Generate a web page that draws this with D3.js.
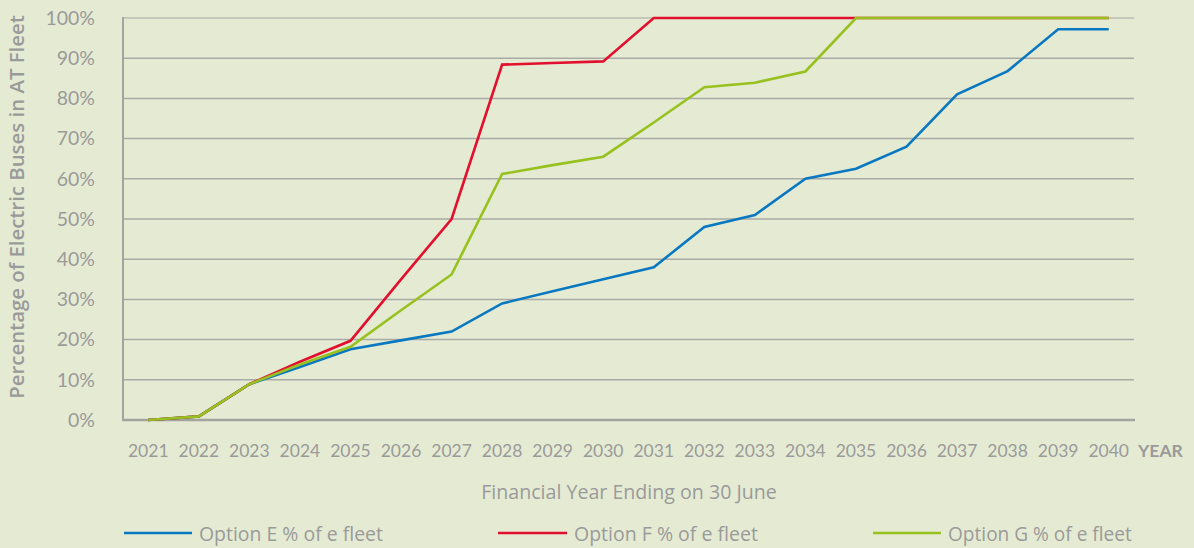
<!DOCTYPE html>
<html><head><meta charset="utf-8">
<script src="https://cdn.jsdelivr.net/npm/d3@7"></script>
<style>
html,body{margin:0;padding:0;background:#e5ebd3;}
svg{display:block;}
text{font-family:"Open Sans",Lato,sans-serif;fill:#9a9a9a;}
.lato{font-family:Lato,"Open Sans",sans-serif;}
</style></head><body>
<svg id="c" width="1194" height="548"></svg>
<script>
const years = ["2021","2022","2023","2024","2025","2026","2027","2028","2029","2030","2031","2032","2033","2034","2035","2036","2037","2038","2039","2040"];
const optionE = [0,0.9,8.9,13.2,17.6,19.8,22,29,32,35,38,48,51,60,62.5,68,81,86.8,97.2,97.2];
const optionF = [0,0.9,8.9,14.5,19.7,35,50,88.4,88.8,89.2,100,100,100,100,100,100,100,100,100,100];
const optionG = [0,0.9,8.9,13.8,18.2,27.3,36.2,61.2,63.4,65.5,74,82.8,83.9,86.7,100,100,100,100,100,100];
const yTicks = [0,10,20,30,40,50,60,70,80,90,100];
const seriesNames = ["Option E % of e fleet","Option F % of e fleet","Option G % of e fleet"];
const seriesColors = ["#0a78c0","#e2102e","#97c11f"];

const svg = d3.select("#c");
const x = d3.scaleBand().domain(years).range([123,1134]);
const y = d3.scaleLinear().domain([0,100]).range([420,18]);

function fit(sel, target){
  const w = sel.node().getComputedTextLength();
  const fs = parseFloat(sel.attr("font-size"));
  sel.attr("font-size", fs*target/w);
}

// gridlines
svg.append("g").selectAll("line").data(yTicks.filter(d=>d>0)).join("line")
  .attr("x1",123).attr("x2",1134)
  .attr("y1",d=>y(d)).attr("y2",d=>y(d))
  .attr("stroke",d=>d===100?"#b9bbb4":"#a9aaa6").attr("stroke-width",1.5);

// axes lines
svg.append("line").attr("x1",123).attr("x2",123).attr("y1",17).attr("y2",421)
  .attr("stroke","#a3a4a0").attr("stroke-width",2);
svg.append("line").attr("x1",122).attr("x2",1135).attr("y1",420).attr("y2",420)
  .attr("stroke","#a3a4a0").attr("stroke-width",2.5);

// y tick labels
svg.append("g").selectAll("text").data(yTicks).join("text").attr("class","lato")
  .attr("x",95).attr("y",d=>y(d)).attr("dy","0.35em")
  .attr("text-anchor","end").attr("font-size",19.5)
  .text(d=>d+"%");

// x tick labels
svg.append("g").selectAll("text").data(years).join("text").attr("class","lato")
  .attr("x",d=>x(d)+x.bandwidth()/2).attr("y",451).attr("dy","0.35em")
  .attr("text-anchor","middle").attr("font-size",17.5)
  .text(d=>d);
svg.append("text").attr("class","lato").attr("x",1138).attr("y",451).attr("dy","0.35em")
  .attr("font-size",17.5).attr("font-weight","bold").text("YEAR");

// axis titles
const xt = svg.append("text").attr("x",629).attr("y",492).attr("dy","0.35em")
  .attr("text-anchor","middle").attr("font-size",17).text("Financial Year Ending on 30 June");
fit(xt,296);
const yt = svg.append("text").attr("transform","translate(17,207) rotate(-90)").attr("dy","0.35em")
  .attr("text-anchor","middle").attr("font-size",18).attr("font-weight",600)
  .text("Percentage of Electric Buses in AT Fleet");
fit(yt,384);

// lines
const line = d3.line().x((d,i)=>x(years[i])+x.bandwidth()/2).y(d=>y(d));
[optionE,optionF,optionG].forEach((s,i)=>{
  svg.append("path").datum(s).attr("d",line).attr("fill","none")
    .attr("stroke",seriesColors[i]).attr("stroke-width",2.6).attr("stroke-linejoin","miter");
});

// legend
const legX = [124,498,873];
const legLen = [68,69,68];
seriesNames.forEach((n,i)=>{
  svg.append("line").attr("x1",legX[i]).attr("x2",legX[i]+legLen[i]).attr("y1",533).attr("y2",533)
    .attr("stroke",seriesColors[i]).attr("stroke-width",2.6);
  const t = svg.append("text").attr("x",legX[i]+legLen[i]+7).attr("y",534).attr("dy","0.35em")
    .attr("font-size",18).text(n);
  fit(t,184);
});
</script>
</body></html>
